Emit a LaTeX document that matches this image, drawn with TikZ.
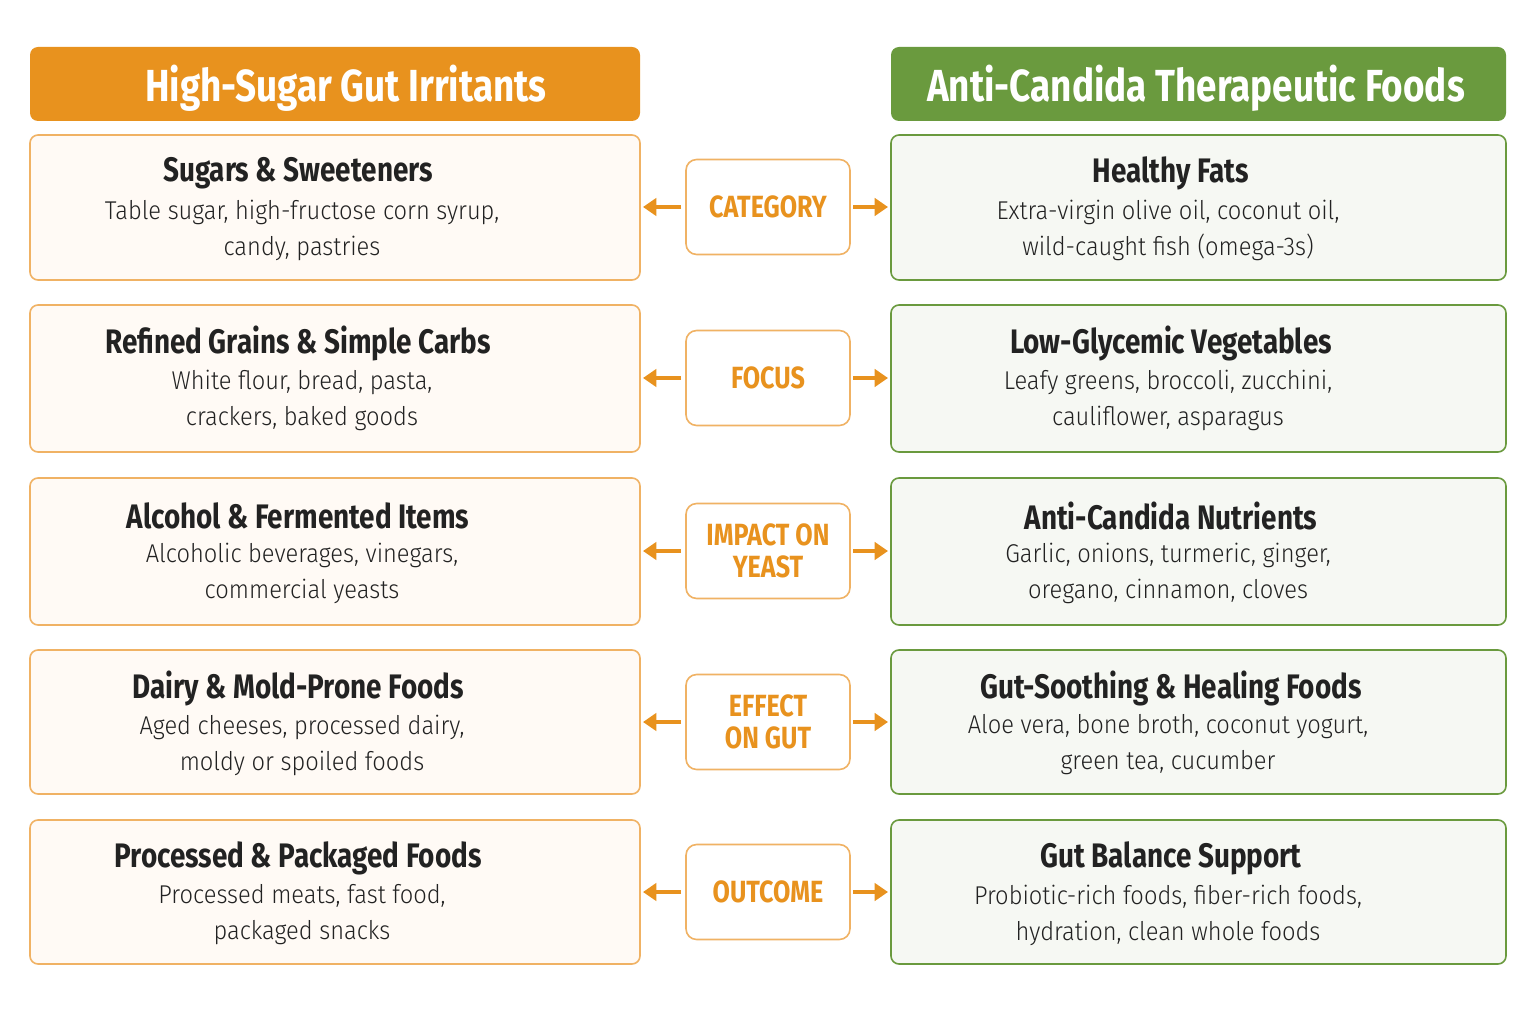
\documentclass[tikz,border=0pt]{standalone}
\usepackage{fontspec}
\usetikzlibrary{arrows.meta}
\setmainfont{Fira Sans}
\newfontfamily\cond[FakeStretch=0.82]{Fira Sans}
\newfontfamily\bodyf[FakeStretch=0.92]{Fira Sans Light}
\begin{document}
\definecolor{org}{HTML}{E8921E}
\definecolor{orgb}{HTML}{F0B264}
\definecolor{orgf}{HTML}{FFFAF5}
\definecolor{grn}{HTML}{6A9A3E}
\definecolor{grnf}{HTML}{F6F8F3}
\definecolor{txt}{HTML}{222222}
\begin{tikzpicture}[x=0.75pt,y=-0.75pt,
  hdr/.style={rounded corners=6pt,draw=none},
  lbox/.style={draw=orgb,fill=orgf,line width=1.2pt,rounded corners=6pt},
  rbox/.style={draw=grn,fill=grnf,line width=1.2pt,rounded corners=6pt},
  mbox/.style={draw=orgb,fill=white,line width=1.2pt,rounded corners=8pt},
  ttl/.style={font=\cond\bfseries\fontsize{25.5}{28}\selectfont,text=txt},
  bod/.style={font=\bodyf\fontsize{19.3}{27}\selectfont,text=txt,align=center},
  mtx/.style={font=\cond\bfseries\fontsize{23}{24}\selectfont,text=org,align=center},
  htx/.style={font=\cond\bfseries\fontsize{33.7}{38}\selectfont,text=white},
  arr/.style={draw=org,line width=3.3pt,-{Triangle[length=10pt,width=13pt]}}]
\useasboundingbox (0,0) rectangle (1535,1012);
\fill[white] (0,0) rectangle (1535,1012);
\fill[org,hdr] (30,47) rectangle (640,121);
\fill[grn,hdr] (891,47) rectangle (1506,121);
\node[htx] (hl) at (346,88) {High-Sugar Gut Irritants};
\node[htx] (hr) at (1196,88) {Anti-Candida Therapeutic Foods};
\foreach \ya/\yb/\yc/\lt/\lb/\rt/\rb/\m [count=\i] in {
135/280/207/{Sugars \& Sweeteners}/{Table sugar, high-fructose corn syrup,\\candy, pastries}/{Healthy Fats}/{Extra-virgin olive oil, coconut oil,\\wild-caught fish (omega-3s)}/{CATEGORY},
305/452/378/{Refined Grains \& Simple Carbs}/{White flour, bread, pasta,\\crackers, baked goods}/{Low-Glycemic Vegetables}/{Leafy greens, broccoli, zucchini,\\cauliflower, asparagus}/{FOCUS},
478/625/551/{Alcohol \& Fermented Items}/{Alcoholic beverages, vinegars,\\commercial yeasts}/{Anti-Candida Nutrients}/{Garlic, onions, turmeric, ginger,\\oregano, cinnamon, cloves}/{IMPACT ON\\YEAST},
650/794/722/{Dairy \& Mold-Prone Foods}/{Aged cheeses, processed dairy,\\moldy or spoiled foods}/{Gut-Soothing \& Healing Foods}/{Aloe vera, bone broth, coconut yogurt,\\green tea, cucumber}/{EFFECT\\ON GUT},
820/964/892/{Processed \& Packaged Foods}/{Processed meats, fast food,\\packaged snacks}/{Gut Balance Support}/{Probiotic-rich foods, fiber-rich foods,\\hydration, clean whole foods}/{OUTCOME}}
{
  \path[lbox] (30,\ya) rectangle (640,\yb);
  \path[rbox] (891,\ya) rectangle (1506,\yb);
  \coordinate (L\i) at (643,\yc);
  \coordinate (R\i) at (888,\yc);
  \node[mbox,minimum width=164*0.75pt,minimum height=95*0.75pt,mtx] (m\i) at (768,\yc) {\m};
  \node[ttl] (lt\i) at (298,\ya+38) {\lt};
  \node[bod,anchor=north] (lb\i) at (302,\ya+60) {\lb};
  \node[ttl] (rt\i) at (1171,\ya+38) {\rt};
  \node[bod,anchor=north] (rb\i) at (1168,\ya+60) {\rb};
  \draw[arr] ([xshift=-3pt]m\i.west) -- (L\i);
  \draw[arr] ([xshift=2pt]m\i.east) -- (R\i);
}
\end{tikzpicture}
\end{document}
